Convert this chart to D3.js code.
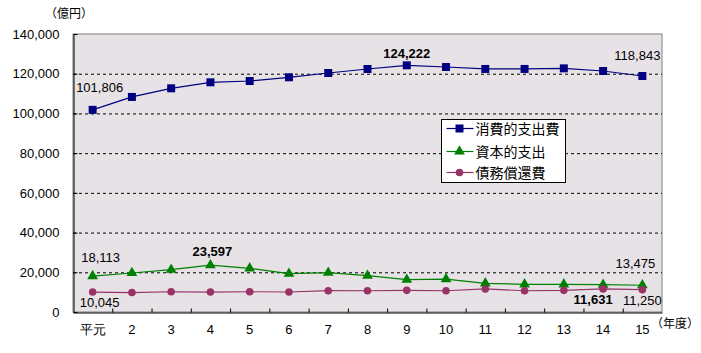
<!DOCTYPE html>
<html>
<head>
<meta charset="utf-8">
<script src="https://cdn.jsdelivr.net/npm/d3@7"></script>
<style>
  body { margin: 0; background: #fff; }
  svg { display: block; font-family: "Liberation Sans", "Noto Sans CJK JP", sans-serif; }
</style>
</head>
<body>
<div id="chart"></div>
<script>
const years = ["平元", "2", "3", "4", "5", "6", "7", "8", "9", "10", "11", "12", "13", "14", "15"];
const consumption = [101806, 108300, 112650, 115670, 116330, 118200, 120360, 122370, 124222, 123380, 122400, 122400, 122700, 121370, 118843];
const capital = [18113, 19640, 21300, 23597, 22000, 19300, 19800, 18300, 16300, 16600, 14450, 13950, 13950, 13750, 13475];
const debt = [10045, 9800, 10200, 10050, 10200, 10070, 10730, 10700, 10900, 10700, 11600, 10700, 10900, 11631, 11250];
const yTicks = [0, 20000, 40000, 60000, 80000, 100000, 120000, 140000];

const seriesList = [
  { name: "消費的支出費", values: consumption, color: "#000080", marker: d3.symbolSquare, size: 64 },
  { name: "資本的支出", values: capital, color: "#008000", marker: d3.symbolTriangle, size: 50 },
  { name: "債務償還費", values: debt, color: "#993366", marker: d3.symbolCircle, size: 45 }
];

// labels shown on the chart: [series index, point index, bold, dx, dy]
const callouts = [
  [0, 0, false, 7, -22], [0, 8, true, 0, -12], [0, 14, false, -5, -21],
  [1, 0, false, 8, -19], [1, 3, true, 2, -14], [1, 14, false, -7, -22],
  [2, 0, false, 7, 10], [2, 13, true, -10, 11], [2, 14, false, 0, 11]
];

const W = 701, H = 353;
const M = { top: 34, right: 39, bottom: 41, left: 73 };

const svg = d3.select("#chart").append("svg")
  .attr("width", W).attr("height", H);

const x = d3.scaleBand().domain(years).range([M.left, W - M.right]).padding(0);
const y = d3.scaleLinear().domain([0, 140000]).range([H - M.bottom, M.top]);
const cx = d => x(d) + x.bandwidth() / 2;

// plot background
svg.append("rect")
  .attr("x", M.left).attr("y", M.top)
  .attr("width", W - M.left - M.right).attr("height", H - M.top - M.bottom)
  .attr("fill", "#e6e2e6").attr("stroke", "#808080");

// dashed grid
svg.append("g").selectAll("line")
  .data(yTicks.filter(t => t > 0 && t < 140000))
  .join("line")
  .attr("x1", M.left).attr("x2", W - M.right)
  .attr("y1", d => y(d) + 0.5).attr("y2", d => y(d) + 0.5)
  .attr("stroke", "#000").attr("stroke-dasharray", "3,3");

// y axis
const yAxis = svg.append("g")
  .attr("transform", `translate(${M.left + 0.5},0)`)
  .call(d3.axisLeft(y).tickValues(yTicks).tickFormat(d3.format(",")).tickSizeInner(-4).tickSizeOuter(0).tickPadding(14));
yAxis.select(".domain").attr("stroke", "#000");
yAxis.selectAll("text").attr("font-size", 13).attr("fill", "#000");

// x axis
const xAxis = svg.append("g")
  .attr("transform", `translate(0,${H - M.bottom + 0.5})`)
  .call(d3.axisBottom(x).tickSize(0).tickPadding(12));
xAxis.select(".domain").attr("stroke", "#000");
xAxis.selectAll("text").attr("font-size", 13).attr("fill", "#000");
xAxis.selectAll(".bound")
  .data(years.slice(1))
  .join("line")
  .attr("class", "bound")
  .attr("x1", d => x(d) + 0.5).attr("x2", d => x(d) + 0.5)
  .attr("y1", 0).attr("y2", -4)
  .attr("stroke", "#000");

// unit labels
svg.append("text").attr("x", 69).attr("y", 18).attr("text-anchor", "middle")
  .attr("font-size", 12).text("（億円）");
svg.append("text").attr("x", 651).attr("y", 328).attr("text-anchor", "start")
  .attr("font-size", 12).text("（年度）");

// series
const line = d3.line().x((v, i) => cx(years[i])).y(v => y(v));
seriesList.forEach(s => {
  svg.append("path")
    .attr("d", line(s.values))
    .attr("fill", "none").attr("stroke", s.color).attr("stroke-width", 1.2);
  svg.append("g").selectAll("path")
    .data(s.values)
    .join("path")
    .attr("transform", (v, i) => `translate(${cx(years[i])},${y(v)})`)
    .attr("d", d3.symbol(s.marker, s.size))
    .attr("fill", s.color);
});

// callouts
svg.append("g").selectAll("text")
  .data(callouts)
  .join("text")
  .attr("x", d => cx(years[d[1]]) + d[3])
  .attr("y", d => y(seriesList[d[0]].values[d[1]]) + d[4])
  .attr("text-anchor", "middle")
  .attr("dominant-baseline", "central")
  .attr("font-size", 13)
  .attr("font-weight", d => d[2] ? "bold" : "normal")
  .text(d => d3.format(",")(seriesList[d[0]].values[d[1]]));

// legend
const lg = svg.append("g").attr("transform", "translate(441.5,119.5)");
lg.append("rect").attr("width", 124).attr("height", 63)
  .attr("fill", "#fff").attr("stroke", "#000");
seriesList.forEach((s, i) => {
  const ry = [9, 32, 53][i];
  lg.append("line").attr("x1", 5).attr("x2", 32).attr("y1", ry).attr("y2", ry)
    .attr("stroke", s.color).attr("stroke-width", 1.2);
  lg.append("path").attr("transform", `translate(18,${ry})`)
    .attr("d", d3.symbol(s.marker, s.size)).attr("fill", s.color);
  lg.append("text").attr("x", 34).attr("y", ry).attr("dominant-baseline", "central")
    .attr("font-size", 14).text(s.name);
});
</script>
</body>
</html>
